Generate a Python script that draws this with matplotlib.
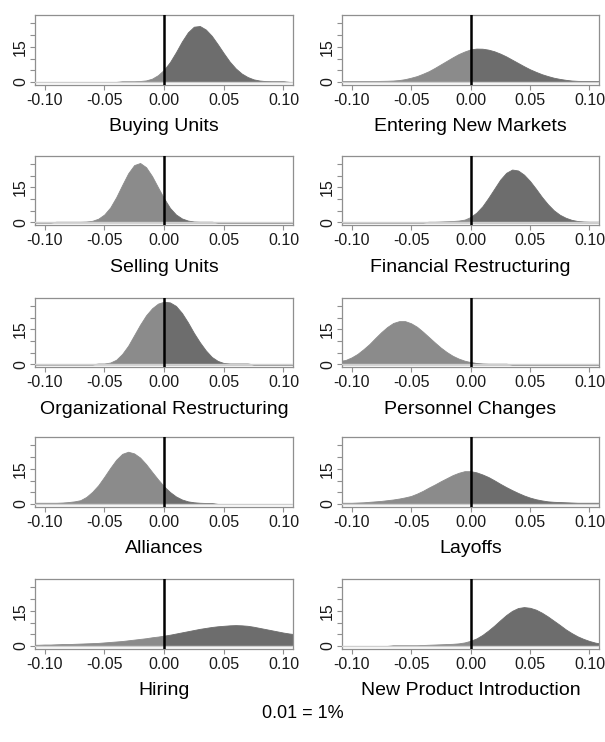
import numpy as np
import matplotlib.pyplot as plt

plt.rcParams['font.family'] = ['Liberation Sans', 'DejaVu Sans']

# density grid: -0.11 .. 0.11 in steps of 0.005 (45 points)
grid = np.round(np.arange(-0.11, 0.1101, 0.005), 3)

buying_units = [0, 0, 0, 0, 0,
                0, 0, 0, 0, 0,
                0, 0, 0, 0, 0,
                0.3, 0.3, 0.3, 0.4, 0.65,
                1.4, 2.9, 5.2, 8.5, 12.7,
                17.3, 21.2, 23.6, 23.9, 22.4,
                19.7, 16.1, 12.3, 8.7, 5.8,
                3.6, 2.1, 1.1, 0.6, 0.35,
                0.3, 0.3, 0.3, 0, 0]
entering_new_markets = [0.4, 0.4, 0.4, 0.4, 0.4,
                        0.4, 0.4, 0.45, 0.5, 0.6,
                        0.8, 1.2, 1.8, 2.5, 3.5,
                        4.6, 6.0, 7.5, 9.0, 10.5,
                        11.9, 13.0, 13.9, 14.25, 14.2,
                        13.8, 13.1, 12.1, 10.9, 9.5,
                        8.1, 6.7, 5.4, 4.3, 3.3,
                        2.5, 1.8, 1.3, 0.9, 0.6,
                        0.45, 0.4, 0.4, 0.4, 0.4]
selling_units = [0, 0, 0, 0, 0.3,
                 0.3, 0.3, 0.3, 0.3, 0.4,
                 0.7, 1.6, 3.4, 6.4, 10.8,
                 16.0, 21.0, 24.5, 25.4, 23.6,
                 19.8, 15.0, 10.3, 6.2, 3.4,
                 1.7, 0.8, 0.4, 0.3, 0.3,
                 0.3, 0, 0, 0, 0,
                 0, 0, 0, 0, 0,
                 0, 0, 0, 0, 0]
financial_restructuring = [0, 0, 0, 0, 0,
                           0, 0, 0, 0, 0,
                           0, 0, 0, 0, 0,
                           0.3, 0.3, 0.4, 0.5, 0.6,
                           0.8, 1.2, 2.3, 4.2, 6.9,
                           10.5, 14.4, 18.3, 21.2, 22.6,
                           22.2, 20.4, 17.7, 14.4, 10.9,
                           7.8, 5.2, 3.3, 2.0, 1.1,
                           0.6, 0.4, 0.3, 0.3, 0.3]
organizational_restructuring = [0, 0, 0, 0, 0,
                                0, 0, 0, 0, 0,
                                0, 0.4, 0.4, 0.8, 2.0,
                                4.5, 8.0, 12.5, 17.0, 21.0,
                                24.0, 26.0, 26.8, 26.5, 25.0,
                                22.0, 18.0, 13.5, 9.5, 6.0,
                                3.2, 1.5, 0.6, 0.4, 0.4,
                                0.4, 0.4, 0, 0, 0,
                                0, 0, 0, 0, 0]
personnel_changes = [1.5, 1.9, 3.0, 4.5, 6.5,
                     8.7, 11.3, 13.8, 16.0, 17.7,
                     18.5, 18.5, 17.6, 16.1, 14.0,
                     11.7, 9.4, 7.2, 5.3, 3.7,
                     2.5, 1.6, 1.0, 0.6, 0.4,
                     0.3, 0.3, 0.3, 0.3, 0,
                     0, 0, 0, 0, 0,
                     0, 0, 0, 0, 0,
                     0, 0, 0, 0, 0]
alliances = [0.5, 0.5, 0.5, 0.5, 0.5,
             0.6, 0.8, 1.1, 1.6, 3.0,
             5.2, 8.0, 11.6, 15.4, 18.9,
             21.4, 22.3, 21.6, 19.8, 17.0,
             13.7, 10.5, 7.5, 5.1, 3.2,
             1.9, 1.1, 0.7, 0.5, 0.4,
             0.4, 0, 0, 0, 0,
             0, 0, 0, 0, 0,
             0, 0, 0, 0, 0]
layoffs = [0.5, 0.5, 0.5, 0.6, 0.7,
           0.9, 1.1, 1.3, 1.6, 1.9,
           2.3, 2.8, 3.4, 4.4, 5.6,
           7.0, 8.3, 9.7, 11.0, 12.3,
           13.3, 14.0, 14.0, 13.5, 12.6,
           11.5, 10.1, 8.6, 7.2, 5.9,
           4.7, 3.6, 2.7, 2.0, 1.5,
           1.1, 0.9, 0.8, 0.7, 0.6,
           0.5, 0.5, 0.5, 0.5, 0.5]
hiring = [0.5, 0.5, 0.6, 0.6, 0.7,
          0.8, 0.8, 0.9, 1.0, 1.1,
          1.2, 1.3, 1.5, 1.7, 1.9,
          2.1, 2.4, 2.7, 3.0, 3.3,
          3.7, 4.0, 4.4, 4.8, 5.3,
          5.8, 6.3, 6.8, 7.3, 7.7,
          8.1, 8.4, 8.6, 8.8, 8.9,
          8.8, 8.6, 8.2, 7.7, 7.2,
          6.7, 6.2, 5.7, 5.3, 5.0]
new_product_introduction = [0, 0, 0, 0, 0,
                            0, 0, 0, 0, 0.3,
                            0.3, 0.3, 0.3, 0.3, 0.4,
                            0.5, 0.6, 0.7, 0.8, 0.9,
                            1.1, 1.5, 2.2, 3.2, 4.7,
                            6.6, 8.7, 11.0, 13.2, 15.0,
                            16.2, 16.6, 16.3, 15.5, 14.2,
                            12.6, 10.8, 9.0, 7.1, 5.5,
                            4.1, 3.0, 2.1, 1.4, 1.0]

titles = ["Buying Units", "Entering New Markets",
          "Selling Units", "Financial Restructuring",
          "Organizational Restructuring", "Personnel Changes",
          "Alliances", "Layoffs",
          "Hiring", "New Product Introduction"]
series = [buying_units, entering_new_markets,
          selling_units, financial_restructuring,
          organizational_restructuring, personnel_changes,
          alliances, layoffs,
          hiring, new_product_introduction]

x_ticks = [-0.10, -0.05, 0.00, 0.05, 0.10]
x_ticklabels = ["-0.10", "-0.05", "0.00", "0.05", "0.10"]
y_ticks = [0, 5, 10, 15, 20, 25]
y_ticklabels = ["0", "", "", "15", "", ""]

W, H = 605, 742
fig = plt.figure(figsize=(W / 100, H / 100), dpi=100)

col_left = [35, 342]
col_width = [258, 257]
row_top = [15, 155.5, 297.5, 437, 579]
row_h = 69.5

light = "#8b8b8b"
dark = "#6d6d6d"
frame = "#8f8f8f"

for i, (name, dens) in enumerate(zip(titles, series)):
    r, c = divmod(i, 2)
    rect = [col_left[c] / W, 1 - (row_top[r] + row_h) / H,
            col_width[c] / W, row_h / H]
    ax = fig.add_axes(rect)
    d = np.array(dens)
    ax.fill_between(grid, 0, d, where=grid <= 0, color=light,
                    lw=0.6, zorder=2)
    ax.fill_between(grid, 0, d, where=grid >= 0, color=dark,
                    lw=0.6, zorder=2)
    ax.axhline(0, color="#cfcfcf", lw=1.0, zorder=3)
    ax.axvline(0, color="black", lw=1.8, zorder=4)

    ax.set_xlim(-0.108, 0.108)
    ax.set_ylim(-1.1, 28.6)
    ax.set_xticks(x_ticks)
    ax.set_xticklabels(x_ticklabels)
    ax.set_yticks(y_ticks)
    ax.set_yticklabels(y_ticklabels, rotation=90, va="center")
    ax.tick_params(axis="both", length=3.5, width=0.8, color=frame,
                   labelsize=11.5, labelcolor="#1a1a1a")
    ax.tick_params(axis="x", pad=2.5)
    ax.tick_params(axis="y", pad=1.5)
    for sp in ax.spines.values():
        sp.set_color(frame)
        sp.set_linewidth(0.9)

    ax.annotate(name, xy=(0.5, 0), xycoords="axes fraction",
                xytext=(0, -42 * 0.72), textcoords="offset points",
                ha="center", va="center", fontsize=14, color="black")

fig.text(303 / W, 1 - 713 / H, "0.01 = 1%", ha="center", va="center",
         fontsize=13, color="black")

fig.savefig("out.png", dpi=100, facecolor="white")
